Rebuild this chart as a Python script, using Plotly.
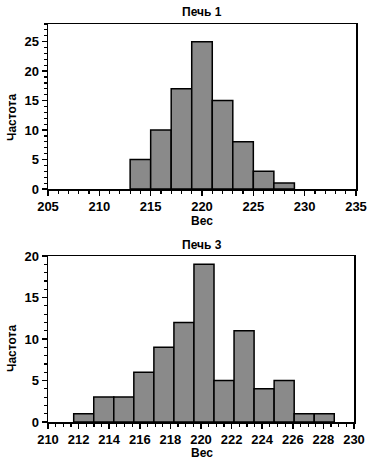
import plotly.graph_objects as go

# Печь 1
p1_bin_start = 213
p1_bin_width = 2
p1_counts = [5, 10, 17, 25, 15, 8, 3, 1]

# Печь 3
p3_bin_start = 211.68
p3_bin_width = 1.31
p3_counts = [1, 3, 3, 6, 9, 12, 19, 5, 11, 4, 5, 1, 1]

titles = ["Печь 1", "Печь 3"]
x_title = "Вес"
y_title = "Частота"

FONT = "Liberation Sans, Arial, sans-serif"
BAR = "#8a8a8a"
W, H = 375, 463

def centers(start, width, n):
    return [start + width * (i + 0.5) for i in range(n)]

fig = go.Figure()
fig.add_trace(go.Bar(
    x=centers(p1_bin_start, p1_bin_width, len(p1_counts)), y=p1_counts,
    width=p1_bin_width, marker=dict(color=BAR, line=dict(color="black", width=1.5)),
    xaxis="x", yaxis="y", showlegend=False))
fig.add_trace(go.Bar(
    x=centers(p3_bin_start, p3_bin_width, len(p3_counts)), y=p3_counts,
    width=p3_bin_width, marker=dict(color=BAR, line=dict(color="black", width=1.5)),
    xaxis="x2", yaxis="y2", showlegend=False))

tickfont = dict(family=FONT, size=13, color="black", weight="bold")
common = dict(showline=True, linecolor="black", linewidth=1.5, mirror=True,
              ticks="outside", tickcolor="black", tickwidth=1.5, ticklen=5,
              showgrid=False, zeroline=False, tickfont=tickfont, fixedrange=True,
              automargin=False, tickangle=0)
minor = dict(ticks="outside", ticklen=3, tickcolor="black", tickwidth=1.2)

fig.update_layout(
    width=W, height=H,
    margin=dict(l=0, r=0, t=0, b=0),
    paper_bgcolor="white", plot_bgcolor="white",
    bargap=0,
    xaxis=dict(domain=[48/W, 356/W], range=[205, 235], dtick=5, anchor="y",
               minor=dict(dtick=1, **minor), **common),
    yaxis=dict(domain=[1-189/H, 1-24/H], range=[0, 28], dtick=5, anchor="x",
               minor=dict(dtick=1, **minor), **common),
    xaxis2=dict(domain=[48/W, 354/W], range=[210, 230], dtick=2, anchor="y2",
                minor=dict(dtick=0.5, **minor), **common),
    yaxis2=dict(domain=[1-422/H, 1-256/H], range=[0, 20], dtick=5, anchor="x2",
                minor=dict(dtick=1, **minor), **common),
)

tfont = dict(family=FONT, size=12, color="black", weight="bold")
ann = [
    dict(text=titles[0], x=202/W, y=1-12/H),
    dict(text=titles[1], x=202/W, y=1-245/H),
    dict(text=x_title, x=202/W, y=1-221/H),
    dict(text=x_title, x=202/W, y=1-453/H),
    dict(text=y_title, x=12/W, y=1-118/H, textangle=-90),
    dict(text=y_title, x=12/W, y=1-349/H, textangle=-90),
]
for a in ann:
    fig.add_annotation(xref="paper", yref="paper", xanchor="center", yanchor="middle",
                       showarrow=False, font=tfont, **a)

fig.write_html("out.html", config={"displayModeBar": False, "staticPlot": True},
               post_script="document.body.style.margin='0';document.body.style.overflow='hidden';")
